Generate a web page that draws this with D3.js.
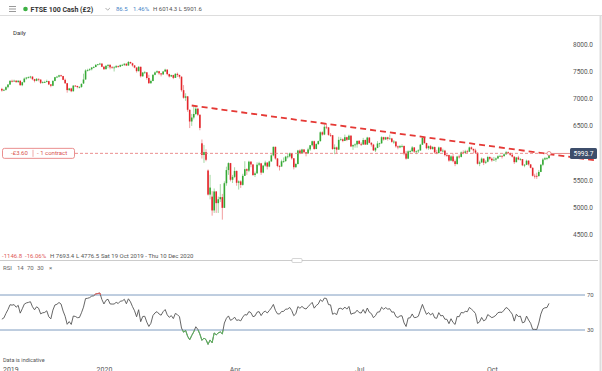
<!DOCTYPE html>
<html>
<head>
<meta charset="utf-8">
<script src="https://cdn.jsdelivr.net/npm/d3@7"></script>
<style>
  html, body { margin: 0; padding: 0; background: #fff; }
  svg { display: block; font-family: Roboto, "Open Sans", sans-serif; }
</style>
</head>
<body>
<div id="chart"></div>
<script>
// daily candles, one array per month: [day, open, high, low, close]
const oct19 = [[18,7180,7200,7130,7150],[21,7150,7180,7140,7163],[22,7163,7230,7150,7212],[23,7212,7270,7190,7260],[24,7260,7340,7250,7328],[25,7328,7350,7300,7324],[28,7324,7350,7310,7331],[29,7331,7340,7290,7306],[30,7306,7340,7290,7330],[31,7330,7335,7240,7248]];
const nov19 = [[1,7248,7310,7230,7302],[4,7302,7390,7300,7369],[5,7369,7400,7350,7388],[6,7388,7410,7370,7396],[7,7396,7420,7370,7406],[8,7406,7410,7340,7359],[11,7359,7365,7300,7328],[12,7328,7380,7320,7365],[13,7365,7370,7320,7351],[14,7351,7355,7270,7292],[15,7292,7320,7280,7303],[18,7303,7330,7290,7307],[19,7307,7350,7300,7323],[20,7323,7330,7250,7262],[21,7262,7270,7210,7238],[22,7238,7340,7230,7327],[25,7327,7400,7320,7395],[26,7395,7420,7380,7405],[27,7405,7440,7390,7430],[28,7430,7440,7400,7416],[29,7416,7420,7340,7347]];
const dec19 = [[2,7347,7370,7270,7285],[3,7285,7290,7110,7158],[4,7158,7200,7140,7188],[5,7188,7200,7120,7137],[6,7137,7250,7130,7240],[9,7240,7250,7220,7233],[10,7233,7240,7190,7214],[11,7214,7230,7190,7216],[12,7216,7280,7200,7273],[13,7280,7460,7270,7353],[16,7353,7540,7350,7519],[17,7519,7550,7500,7526],[18,7526,7560,7510,7541],[19,7541,7580,7520,7574],[20,7574,7600,7560,7582],[23,7582,7630,7580,7624],[24,7624,7640,7610,7633],[27,7633,7660,7620,7645],[30,7645,7650,7580,7587],[31,7587,7600,7530,7542]];
const jan20 = [[2,7542,7620,7540,7604],[3,7604,7630,7560,7623],[6,7623,7630,7540,7576],[7,7576,7600,7560,7574],[8,7574,7600,7500,7575],[9,7575,7620,7570,7598],[10,7598,7610,7570,7588],[13,7588,7630,7580,7618],[14,7618,7640,7600,7622],[15,7622,7650,7600,7643],[16,7643,7650,7600,7610],[17,7610,7693,7605,7675],[20,7675,7680,7640,7651],[21,7651,7660,7590,7611],[22,7611,7620,7560,7572],[23,7572,7580,7480,7507],[24,7507,7600,7500,7586],[27,7586,7590,7390,7413],[28,7413,7490,7400,7481],[29,7481,7510,7460,7484],[30,7484,7490,7350,7381],[31,7381,7440,7270,7286]];
const feb20 = [[3,7286,7350,7270,7326],[4,7326,7450,7320,7439],[5,7439,7500,7430,7483],[6,7483,7520,7470,7505],[7,7505,7510,7440,7466],[10,7466,7470,7410,7446],[11,7446,7510,7440,7500],[12,7500,7550,7490,7534],[13,7534,7540,7430,7452],[14,7452,7460,7390,7409],[17,7409,7440,7400,7433],[18,7433,7440,7360,7383],[19,7383,7470,7380,7457],[20,7457,7480,7400,7437],[21,7437,7440,7370,7404],[24,7404,7410,7130,7157],[25,7157,7250,7000,7018],[26,7018,7100,6960,7043],[27,7043,7050,6760,6796],[28,6796,6800,6460,6581]];
const mar20 = [[2,6581,6720,6500,6654],[3,6654,6860,6620,6719],[4,6719,6880,6700,6816],[5,6816,6830,6680,6705],[6,6705,6710,6420,6463],[9,6180,6250,5900,5966],[10,5966,6150,5820,6018],[11,6018,6070,5850,5877],[12,5680,5700,5220,5237],[13,5237,5600,5150,5366],[16,5200,5300,4850,4946],[17,4946,5350,4900,5295],[18,5295,5300,4900,5080],[19,5080,5200,4900,5152],[20,5152,5430,5100,5191],[23,5191,5250,4777,4994],[24,4994,5480,4990,5446],[25,5446,5750,5400,5688],[26,5688,5830,5600,5816],[27,5816,5820,5480,5510],[30,5510,5600,5450,5563],[31,5563,5740,5540,5672]];
const apr20 = [[1,5672,5680,5400,5455],[2,5455,5500,5330,5480],[3,5480,5500,5360,5416],[6,5416,5620,5400,5582],[7,5582,5850,5580,5704],[8,5704,5720,5600,5677],[9,5677,5860,5650,5843],[14,5843,5850,5740,5791],[15,5791,5800,5580,5597],[16,5597,5660,5560,5628],[17,5628,5830,5620,5787],[20,5787,5840,5760,5812],[21,5812,5820,5600,5641],[22,5641,5780,5630,5770],[23,5770,5860,5750,5826],[24,5826,5830,5700,5752],[27,5752,5860,5740,5847],[28,5847,5980,5840,5958],[29,5958,6120,5940,6115],[30,6115,6120,5880,5901]];
const may20 = [[1,5901,5910,5740,5763],[4,5763,5780,5680,5753],[5,5753,5880,5750,5849],[6,5849,5920,5820,5853],[7,5853,5950,5840,5935],[11,5936,5990,5900,5939],[12,5939,6010,5920,5994],[13,5994,6000,5880,5904],[14,5904,5910,5700,5741],[15,5741,5820,5730,5800],[18,5800,6060,5790,6048],[19,6048,6070,5980,5998],[20,5998,6080,5990,6067],[21,6067,6070,5990,6015],[22,6015,6020,5940,5993],[26,5993,6100,5990,6068],[27,6068,6150,6040,6144],[28,6144,6230,6120,6218],[29,6218,6230,6060,6076]];
const jun20 = [[1,6076,6180,6070,6166],[2,6166,6230,6150,6220],[3,6220,6400,6210,6382],[4,6382,6400,6320,6341],[5,6341,6530,6330,6484],[8,6484,6540,6440,6472],[9,6472,6480,6320,6335],[10,6335,6370,6300,6329],[11,6329,6330,6060,6076],[12,6076,6160,5980,6105],[15,6105,6120,5990,6064],[16,6064,6300,6060,6243],[17,6243,6290,6230,6253],[18,6253,6270,6200,6224],[19,6224,6340,6220,6292],[22,6292,6300,6220,6244],[23,6244,6340,6240,6320],[24,6320,6330,6110,6123],[25,6123,6160,6060,6147],[26,6147,6180,6100,6159],[29,6159,6230,6100,6225],[30,6225,6240,6160,6170]];
const jul20 = [[1,6170,6200,6130,6158],[2,6158,6280,6150,6240],[3,6240,6250,6150,6157],[6,6157,6300,6150,6286],[7,6286,6290,6180,6189],[8,6189,6200,6120,6156],[9,6156,6170,6040,6050],[10,6050,6110,6020,6095],[13,6095,6220,6090,6176],[14,6176,6190,6110,6180],[15,6180,6310,6170,6292],[16,6292,6300,6230,6251],[17,6251,6300,6240,6290],[20,6290,6300,6230,6261],[21,6261,6340,6250,6269],[22,6269,6280,6190,6207],[23,6207,6240,6170,6211],[24,6211,6220,6100,6124],[27,6124,6140,6070,6104],[28,6104,6150,6090,6129],[29,6129,6160,6100,6131],[30,6131,6140,5960,5990],[31,5990,6040,5880,5898]];
const aug20 = [[3,5898,6050,5890,6032],[4,6032,6060,5990,6036],[5,6036,6130,6020,6104],[6,6104,6110,6000,6027],[7,6027,6050,5980,6032],[10,6032,6070,6000,6050],[11,6050,6170,6040,6154],[12,6154,6290,6150,6280],[13,6280,6290,6170,6185],[14,6185,6190,6070,6090],[17,6090,6140,6060,6127],[18,6127,6150,6060,6076],[19,6076,6130,6060,6111],[20,6111,6120,5990,6013],[21,6013,6060,5980,6001],[24,6001,6120,5990,6104],[25,6104,6110,6020,6037],[26,6037,6080,6010,6045],[27,6045,6060,5940,5964],[28,5964,5990,5930,5963]];
const sep20 = [[1,5963,5970,5840,5862],[2,5862,5960,5850,5940],[3,5940,5990,5830,5851],[4,5851,5880,5760,5799],[7,5799,5950,5790,5937],[8,5937,5970,5900,5930],[9,5930,6030,5920,6012],[10,6012,6050,5980,6003],[11,6003,6060,5990,6032],[14,6032,6060,6000,6026],[15,6026,6120,6020,6105],[16,6105,6120,6060,6078],[17,6078,6080,5990,6049],[18,6049,6080,5990,6007],[21,6007,6010,5790,5804],[22,5804,5860,5760,5829],[23,5829,5920,5820,5899],[24,5899,5900,5780,5823],[25,5823,5870,5800,5842],[28,5842,5950,5830,5927],[29,5927,5940,5870,5897],[30,5897,5920,5840,5866]];
const oct20 = [[1,5866,5930,5860,5880],[2,5880,5920,5840,5902],[5,5902,5960,5890,5942],[6,5942,5970,5930,5949],[7,5949,5960,5900,5946],[8,5946,6000,5930,5978],[9,5978,6040,5970,6016],[12,6016,6030,5980,6001],[13,6001,6010,5950,5969],[14,5969,5990,5920,5935],[15,5935,5940,5800,5833],[16,5833,5930,5830,5920],[19,5920,5950,5870,5884],[20,5884,5910,5860,5889],[21,5889,5890,5760,5776],[22,5776,5800,5740,5785],[23,5785,5880,5780,5860],[26,5860,5870,5770,5792],[27,5792,5800,5720,5729],[28,5729,5740,5570,5583],[29,5583,5620,5530,5582],[30,5582,5640,5525,5577]];
const nov20 = [[2,5577,5690,5570,5654],[3,5654,5800,5650,5786],[4,5786,5910,5760,5883],[5,5883,5930,5870,5906],[6,5906,5930,5870,5910],[9,5907,6014.3,5901.6,5993.7]];

const months = [[2019,9,oct19],[2019,10,nov19],[2019,11,dec19],[2020,0,jan20],[2020,1,feb20],[2020,2,mar20],[2020,3,apr20],[2020,4,may20],[2020,5,jun20],[2020,6,jul20],[2020,7,aug20],[2020,8,sep20],[2020,9,oct20],[2020,10,nov20]];

// closes before 18 Oct 2019, only to warm up the RSI
const warmup = [7281,7268,7311,7271,7282,7235,7267,7338,7344,7367,7321,7320,7314,7356,7345,7326,7291,7290,7351,7426,7408,7360,7123,7078,7155,7198,7143,7166,7186,7247,7214,7212,7168,7182];

const priceTicks = [4500, 5000, 5500, 6500, 7000, 7500, 8000];
const rsiPeriod = 14, rsiUpper = 70, rsiLower = 30;
const dateTicks = [["2020-0", "2020"], ["2020-3", "Apr"], ["2020-6", "Jul"], ["2020-9", "Oct"]];
const trend = [[93, 6875], [290, 5870]];   // [trading day, price]
const positionLevel = 5995.5;

const green = "#35a935", red = "#e3262b";

const svg = d3.select("#chart").append("svg")
    .attr("width", 602)
    .attr("height", 371);

const candles = [];
months.forEach(([yr, mo, rows]) => {
  rows.forEach(r => candles.push({date: new Date(yr, mo, r[0]), o: r[1], h: r[2], l: r[3], c: r[4]}));
});
candles.forEach((d, i) => d.i = i);
const last = candles[candles.length - 1];

const x = d3.scaleLinear().domain([0, candles.length - 1]).range([1.85, 549]);
const y = d3.scaleLinear().domain([4500, 8000]).range([234.7, 44.3]);
const yr = d3.scaleLinear().domain([rsiLower, rsiUpper]).range([330, 295]);

// RSI(14), Wilder smoothing, from the closes
const closes = warmup.concat(candles.map(d => d.c));
let ag = 0, al = 0;
for (let k = 1; k < closes.length; k++) {
  const ch = closes[k] - closes[k - 1];
  const gain = Math.max(ch, 0), loss = Math.max(-ch, 0);
  if (k <= rsiPeriod) { ag += gain / rsiPeriod; al += loss / rsiPeriod; }
  else { ag = (ag * (rsiPeriod - 1) + gain) / rsiPeriod; al = (al * (rsiPeriod - 1) + loss) / rsiPeriod; }
  const idx = k - warmup.length;
  if (idx >= 0) candles[idx].rsi = 100 - 100 / (1 + ag / al);
}

// header
[6.5, 9, 11.5].forEach(v => svg.append("line").attr("x1", 9).attr("x2", 16).attr("y1", v).attr("y2", v)
  .attr("stroke", "#999").attr("stroke-width", 1));
svg.append("circle").attr("cx", 25.5).attr("cy", 9).attr("r", 2.3).attr("fill", "#3cb043");
svg.append("text").attr("x", 30.5).attr("y", 11.5).attr("font-size", 7).attr("font-weight", "bold")
  .attr("fill", "#333").text("FTSE 100 Cash (£2)");
svg.append("path").attr("d", "M105.5,8 l2.2,2.2 l2.2,-2.2").attr("fill", "none").attr("stroke", "#999").attr("stroke-width", 0.8);
svg.append("text").attr("x", 116).attr("y", 11.2).attr("font-size", 6).attr("fill", "#4a86c8").text("86.5");
svg.append("text").attr("x", 133).attr("y", 11.2).attr("font-size", 6).attr("fill", "#4a86c8").text("1.46%");
svg.append("text").attr("x", 153).attr("y", 11.2).attr("font-size", 6).attr("fill", "#555").text("H 6014.3  L 5901.6");
svg.append("line").attr("x1", 0).attr("x2", 602).attr("y1", 15.5).attr("y2", 15.5).attr("stroke", "#ddd");
svg.append("text").attr("x", 13).attr("y", 35).attr("font-size", 6).attr("fill", "#333").text("Daily");

// right border
svg.append("line").attr("x1", 600.5).attr("x2", 600.5).attr("y1", 16).attr("y2", 371).attr("stroke", "#ddd").attr("stroke-width", 2);

// price axis labels
svg.append("g").selectAll("text").data(priceTicks).join("text")
  .attr("x", 573).attr("y", d => y(d)).attr("dy", "0.35em")
  .attr("font-size", 6.5).attr("fill", "#555")
  .text(d => d3.format(".1f")(d));

// candles
svg.append("g").selectAll("line").data(candles).join("line")
  .attr("x1", d => x(d.i)).attr("x2", d => x(d.i))
  .attr("y1", d => y(d.h)).attr("y2", d => y(d.l))
  .attr("stroke", d => d.c >= d.o ? green : red)
  .attr("stroke-opacity", 0.45).attr("stroke-width", 1);
svg.append("g").selectAll("rect").data(candles).join("rect")
  .attr("x", d => x(d.i) - 0.8).attr("width", 1.6)
  .attr("y", d => y(Math.max(d.o, d.c)))
  .attr("height", d => Math.max(0.8, Math.abs(y(d.o) - y(d.c))))
  .attr("fill", d => d.c >= d.o ? green : red);

// trend line
svg.append("path").datum(trend)
  .attr("d", d3.line().x(d => x(d[0])).y(d => y(d[1])))
  .attr("fill", "none").attr("stroke", "#e53935").attr("stroke-width", 1.8)
  .attr("stroke-dasharray", "6,4");

// open position line and box
svg.append("line").attr("x1", 75).attr("x2", x(last.i) - 2)
  .attr("y1", y(positionLevel)).attr("y2", y(positionLevel))
  .attr("stroke", "#e57373").attr("stroke-opacity", 0.8).attr("stroke-dasharray", "3,2");
svg.append("line").attr("x1", x(last.i) + 2).attr("x2", 570)
  .attr("y1", y(last.c)).attr("y2", y(last.c)).attr("stroke", "#e88a8a");
svg.append("circle").attr("cx", x(last.i)).attr("cy", y(last.c)).attr("r", 2)
  .attr("fill", "#fff").attr("stroke", "#e57373").attr("stroke-width", 0.8);
svg.append("rect").attr("x", 2.5).attr("y", y(positionLevel) - 5).attr("width", 72).attr("height", 10)
  .attr("rx", 2).attr("fill", "#fff").attr("stroke", "#e57373").attr("stroke-width", 0.8);
svg.append("line").attr("x1", 33).attr("x2", 33).attr("y1", y(positionLevel) - 3.5).attr("y2", y(positionLevel) + 3.5)
  .attr("stroke", "#e57373").attr("stroke-width", 0.6);
svg.append("text").attr("x", 11).attr("y", y(positionLevel)).attr("dy", "0.35em")
  .attr("font-size", 6).attr("fill", "#d9534f").text("-£3.60");
svg.append("text").attr("x", 37).attr("y", y(positionLevel)).attr("dy", "0.35em")
  .attr("font-size", 6).attr("fill", "#d9534f").text("- 1 contract");

// price tag
svg.append("rect").attr("x", 570).attr("y", y(last.c) - 5.5).attr("width", 27).attr("height", 11)
  .attr("rx", 1.5).attr("fill", "#3d4e6b");
svg.append("text").attr("x", 583.5).attr("y", y(last.c)).attr("dy", "0.35em").attr("text-anchor", "middle")
  .attr("font-size", 6.5).attr("fill", "#fff").text(d3.format(".1f")(last.c));

// info row
const info = [[2, "-1146.8", "#e05a5a"], [25, "-16.06%", "#e05a5a"], [50, "H 7693.4", "#555"], [76, "L 4776.5", "#555"], [101, "Sat 19 Oct 2019 - Thu 10 Dec 2020", "#555"]];
svg.append("g").selectAll("text").data(info).join("text")
  .attr("x", d => d[0]).attr("y", 256).attr("dy", "0.35em")
  .attr("font-size", 6).attr("fill", d => d[2]).text(d => d[1]);

// panel separator
svg.append("line").attr("x1", 0).attr("x2", 598).attr("y1", 260.5).attr("y2", 260.5).attr("stroke", "#ccc");
svg.append("rect").attr("x", 292).attr("y", 258.5).attr("width", 10).attr("height", 4).attr("rx", 1)
  .attr("fill", "#fff").attr("stroke", "#bbb").attr("stroke-width", 0.6);

// RSI legend
const rsiLegend = [[3, "RSI"], [17, "14"], [27, "70"], [37, "30"], [49, "×"]];
svg.append("g").selectAll("text").data(rsiLegend).join("text")
  .attr("x", d => d[0]).attr("y", 268).attr("dy", "0.35em")
  .attr("font-size", 6).attr("fill", "#666").text(d => d[1]);

// RSI levels
svg.append("g").selectAll("line").data([rsiUpper, rsiLower]).join("line")
  .attr("x1", 0).attr("x2", 585).attr("y1", d => yr(d)).attr("y2", d => yr(d))
  .attr("stroke", "#7f9cc0").attr("stroke-width", 1);
svg.append("g").selectAll("text").data([rsiUpper, rsiLower]).join("text")
  .attr("x", 587).attr("y", d => yr(d)).attr("dy", "0.35em")
  .attr("font-size", 6).attr("fill", "#555").text(d => d);

// RSI line, red above 70 and green below 30
const defs = svg.append("defs");
defs.append("clipPath").attr("id", "above").append("rect")
  .attr("x", 0).attr("y", 270).attr("width", 602).attr("height", yr(rsiUpper) - 270);
defs.append("clipPath").attr("id", "below").append("rect")
  .attr("x", 0).attr("y", yr(rsiLower)).attr("width", 602).attr("height", 350 - yr(rsiLower));
const rsiLine = d3.line().x(d => x(d.i)).y(d => yr(d.rsi));
svg.append("path").datum(candles).attr("d", rsiLine)
  .attr("fill", "none").attr("stroke", "#555").attr("stroke-width", 0.9);
svg.append("path").datum(candles).attr("d", rsiLine).attr("clip-path", "url(#above)")
  .attr("fill", "none").attr("stroke", "#f0605d").attr("stroke-width", 1);
svg.append("path").datum(candles).attr("d", rsiLine).attr("clip-path", "url(#below)")
  .attr("fill", "none").attr("stroke", "#5cb85c").attr("stroke-width", 1);

svg.append("text").attr("x", 3).attr("y", 360).attr("dy", "0.35em")
  .attr("font-size", 5.5).attr("fill", "#555").text("Data is indicative");

// date axis, cut by the bottom edge as in the source
svg.append("text").attr("x", 3).attr("y", 372).attr("font-size", 7).attr("fill", "#555").text("2019");
const tickData = dateTicks.map(([key, label]) => {
  const c = candles.find(d => d.date.getFullYear() + "-" + d.date.getMonth() === key);
  return {i: c.i, label};
});
svg.append("g").selectAll("text").data(tickData).join("text")
  .attr("x", d => x(d.i) - 1.5).attr("y", 372).attr("text-anchor", "middle")
  .attr("font-size", 7).attr("fill", "#555").text(d => d.label);
</script>
</body>
</html>
